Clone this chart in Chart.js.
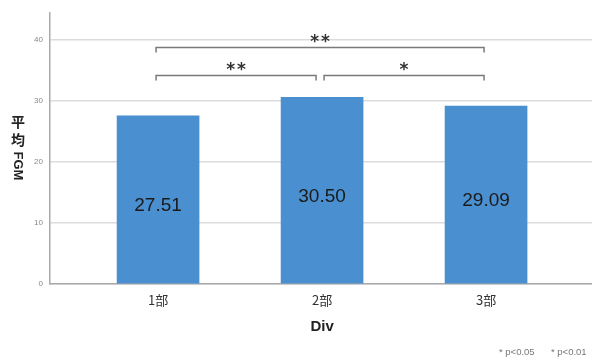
<!DOCTYPE html>
<html>
<head>
<meta charset="utf-8">
<script src="https://cdn.jsdelivr.net/npm/chart.js@4/dist/chart.umd.min.js"></script>
<style>
  html, body { margin: 0; padding: 0; background: #fff; }
  #fgmChart { display: block; }
</style>
</head>
<body>
<canvas id="fgmChart" width="592" height="358"></canvas>
<script>
// mean FGM by division
const divs = ["1部", "2部", "3部"];
const fgmMeans = [27.51, 30.50, 29.09];
const yTicks = [0, 10, 20, 30, 40];

// significance brackets: [from, to] (division index), level in FGM units, mark
const sigPairs = [[0, 2], [0, 1], [1, 2]];
const sigLevels = [38.8, 34.1, 34.1];
const sigMarks = ["**", "**", "*"];

const yTitleCjk = "平均";
const yTitleLatin = "FGM";
const xTitle = "Div";
const noteLabels = ["* p<0.05", "* p<0.01"];

const barColor = "#4a8fd0";
const axisColor = "#aaaaaa";
const gridColor = "#dcdcdc";
const latinFont = '"Liberation Sans", Arial, sans-serif';
const cjkFont = '"Noto Sans CJK JP", "Noto Sans", sans-serif';

// value labels, brackets and stars on top of the bars
const annotations = {
  id: "annotations",
  afterDatasetsDraw(chart) {
    const { ctx, scales: { x, y } } = chart;
    ctx.save();

    // value inside each bar
    ctx.font = "19px " + latinFont;
    ctx.fillStyle = "#1a1a1a";
    ctx.textAlign = "center";
    ctx.textBaseline = "middle";
    fgmMeans.forEach((v, i) => {
      ctx.fillText(v.toFixed(2), x.getPixelForValue(i + 1), y.getPixelForValue(v / 2) + 6);
    });

    // brackets
    const shift = -2;
    ctx.strokeStyle = "#7a7a7a";
    ctx.lineWidth = 1.5;
    sigPairs.forEach(([a, b], k) => {
      let x1 = x.getPixelForValue(a + 1) + shift;
      let x2 = x.getPixelForValue(b + 1) + shift;
      // leave a gap where two brackets meet on the same level
      sigPairs.forEach(([c, d], m) => {
        if (m === k || sigLevels[m] !== sigLevels[k]) return;
        if (c === b) x2 -= 4;
        if (d === a) x1 += 4;
      });
      const yy = Math.round(y.getPixelForValue(sigLevels[k])) + 0.5;
      ctx.beginPath();
      ctx.moveTo(x1, yy + 5);
      ctx.lineTo(x1, yy);
      ctx.lineTo(x2, yy);
      ctx.lineTo(x2, yy + 5);
      ctx.stroke();

      ctx.font = 'bold 17px "DejaVu Sans", sans-serif';
      ctx.letterSpacing = "2px";
      ctx.fillStyle = "#333";
      ctx.textBaseline = "alphabetic";
      ctx.fillText(sigMarks[k], (x1 + x2) / 2 + 1, yy - 1);
    });
    ctx.restore();
  },
  afterDraw(chart) {
    const { ctx, scales: { x } } = chart;
    ctx.save();
    ctx.fillStyle = "#222";
    ctx.textAlign = "center";
    ctx.textBaseline = "middle";

    // vertical y title: CJK upright, latin rotated
    ctx.font = "bold 14px " + cjkFont;
    [...yTitleCjk].forEach((ch, i) => ctx.fillText(ch, 18, 122 + i * 18));
    ctx.translate(18, 166);
    ctx.rotate(Math.PI / 2);
    ctx.font = "bold 13px " + latinFont;
    ctx.fillText(yTitleLatin, 0, 0);
    ctx.setTransform(1, 0, 0, 1, 0, 0);

    // x title
    ctx.font = "bold 15px " + latinFont;
    ctx.fillText(xTitle, x.getPixelForValue(2), 327);

    // footnote
    ctx.font = "9.5px " + latinFont;
    ctx.fillStyle = "#777";
    ctx.textAlign = "left";
    ctx.fillText(noteLabels[0], 499, 352);
    ctx.fillText(noteLabels[1], 551, 352);
    ctx.restore();
  }
};

new Chart(document.getElementById("fgmChart"), {
  type: "bar",
  data: {
    datasets: [{
      data: divs.map((d, i) => ({ x: i + 1, y: fgmMeans[i] })),
      backgroundColor: barColor,
      borderWidth: 0,
      barThickness: 82
    }]
  },
  options: {
    responsive: false,
    animation: false,
    layout: { padding: { top: 13, left: 0, right: 0, bottom: 0 } },
    plugins: { legend: { display: false }, tooltip: { enabled: false } },
    scales: {
      x: {
        type: "linear",
        offset: false,
        min: 0.341,
        max: 3.646,
        afterBuildTicks: axis => { axis.ticks = divs.map((d, i) => ({ value: i + 1 })); },
        afterFit: scale => { scale.height = 74; },
        grid: { display: false, offset: false },
        border: { color: axisColor, width: 1.5 },
        ticks: {
          callback: v => divs[v - 1],
          font: { size: 13, family: cjkFont },
          color: "#333",
          padding: 0,
          maxRotation: 0
        }
      },
      y: {
        min: 0,
        max: 44.3,
        afterBuildTicks: axis => { axis.ticks = yTicks.map(v => ({ value: v })); },
        afterFit: scale => { scale.width = 50; },
        grid: { color: gridColor, lineWidth: 1.5, drawTicks: false },
        border: { color: axisColor, width: 1.5 },
        ticks: { font: { size: 8, family: latinFont }, color: "#888", padding: 7 }
      }
    }
  },
  plugins: [annotations]
});
</script>
</body>
</html>
